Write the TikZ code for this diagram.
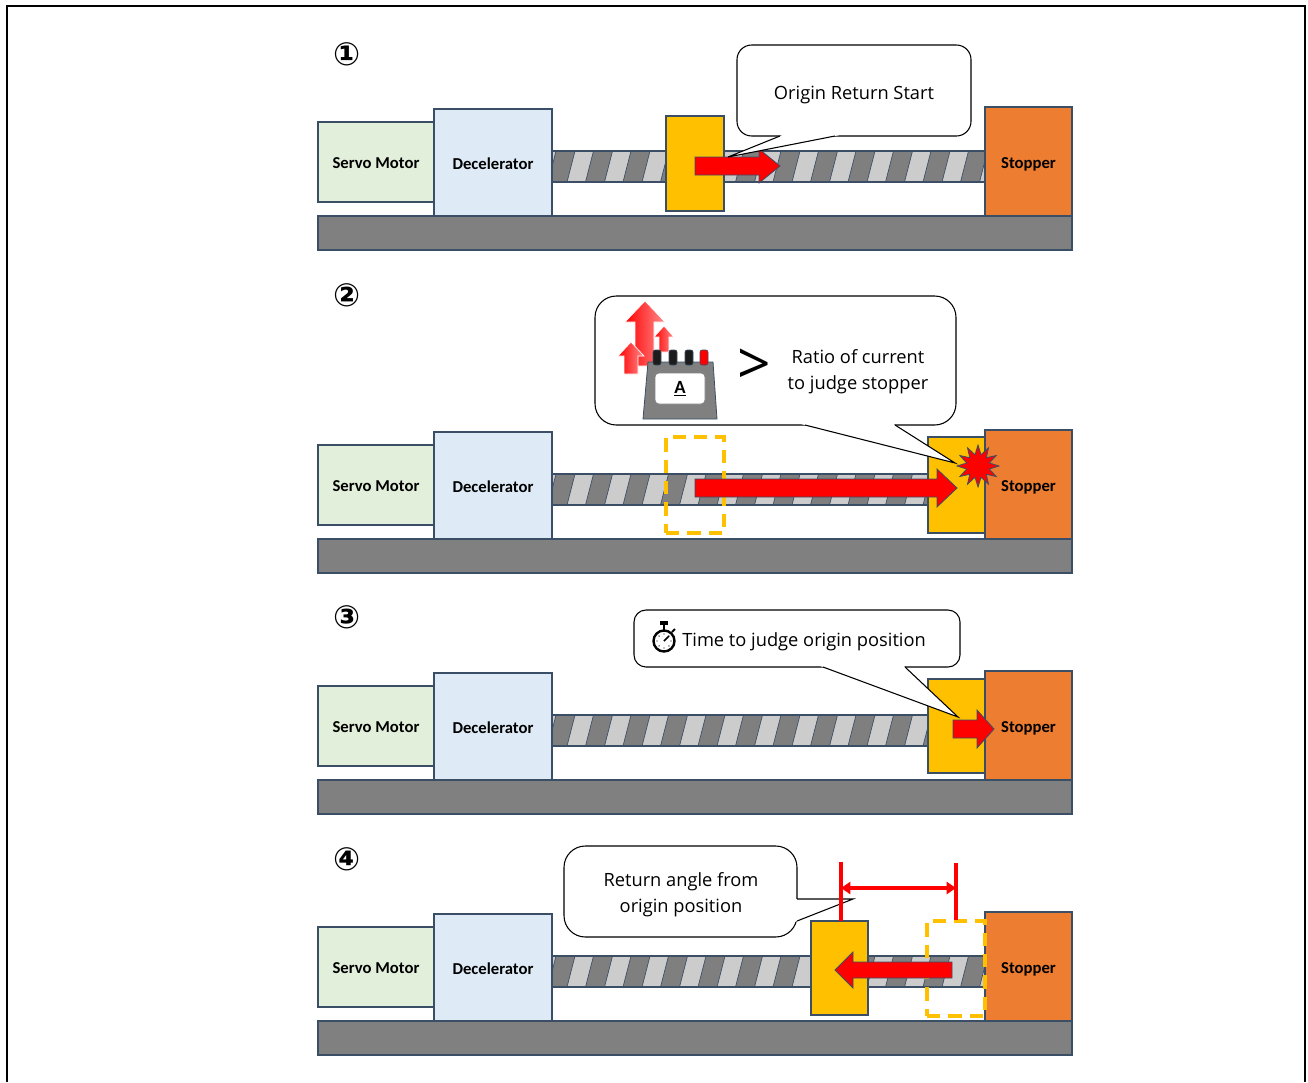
\documentclass[tikz,border=0pt]{standalone}
\usepackage{fontspec}
\setmainfont{Carlito}
\newfontfamily\calloutfont{Open Sans}
\newfontfamily\circfont{DejaVu Sans}
\usetikzlibrary{arrows.meta, calc, shapes.geometric}

\definecolor{edge}{HTML}{3A4F66}
\definecolor{servofill}{HTML}{E2EFDA}
\definecolor{decelfill}{HTML}{DEEBF7}
\definecolor{stopfill}{HTML}{ED7D31}
\definecolor{slidefill}{HTML}{FFC000}
\definecolor{basefill}{HTML}{808080}
\definecolor{screwdark}{HTML}{7F7F7F}
\definecolor{screwlight}{HTML}{CCCCCC}
\definecolor{termblack}{HTML}{1C1C1C}

\tikzset{
  wh/.style 2 args={minimum width=#1*0.75pt, minimum height=#2*0.75pt},
  part/.style={draw=edge, line width=0.9pt, inner sep=0pt, outer sep=0pt,
               text=black, text height=1em, text depth=0pt,
               font=\bfseries\fontsize{12.5}{14}\selectfont},
  base/.style={part, fill=basefill},
  servo/.style={part, fill=servofill},
  decel/.style={part, fill=decelfill},
  stopper/.style={part, fill=stopfill},
  slider/.style={part, fill=slidefill, anchor=north west},
  ghost/.style={draw=slidefill, line width=2.6pt, dash pattern=on 10pt off 6pt,
                inner sep=0pt, outer sep=0pt, anchor=north west},
  pushred/.style={fill=red, draw=edge, line width=0.6pt},
  bubble/.style={draw=black, line width=0.8pt, fill=white, inner sep=0pt,
                 outer sep=0pt, anchor=north west},
  bubbletext/.style={align=center, inner sep=0pt,
                     font=\calloutfont\fontsize{13.7}{19.5}\selectfont},
  rising/.style={left color=red, right color=red!45, draw=white,
                 line width=0.5pt},
  dimline/.style={draw=red, line width=2.4pt},
  stepno/.style={font=\circfont\bfseries\fontsize{24}{24}\selectfont},
}

% lead screw between the gear box and the stopper: x0, x1, top y
\newcommand\leadscrew[3]{%
  \begin{scope}
    \clip (#1,#3) rectangle (#2,#3+31);
    \fill[screwlight] (#1,#3) rectangle (#2,#3+31);
    \foreach \s in {0,...,12}
      \filldraw[fill=screwdark, draw=edge, line width=0.5pt]
        (#1-4+\s*37.5,#3+31) -- ++(8,-31) -- ++(19,0) -- ++(-8,31) -- cycle;
  \end{scope}
  \draw[draw=edge, line width=0.8pt] (#1,#3) rectangle (#2,#3+31);
}

% block arrow: tail x, head x, tip x, centre y, half shaft, half head
\newcommand\pusharrow[6]{%
  \filldraw[pushred] (#1,#4-#5) -- (#2,#4-#5) -- (#2,#4-#6) -- (#3,#4)
    -- (#2,#4+#6) -- (#2,#4+#5) -- (#1,#4+#5) -- cycle;
}

% speech bubble tail: base point, tip, base point
\newcommand\bubbletail[3]{%
  \fill[white] ($(#1)!-3pt!(#2)$) -- (#2) -- ($(#3)!-3pt!(#2)$) -- cycle;
  \draw[line width=0.8pt] (#1) -- (#2) -- (#3);
}

\begin{document}
\begin{tikzpicture}[x=0.75pt, y=-0.75pt]
  \useasboundingbox (0,0) rectangle (1308,1082);
  \draw[line width=1.5pt] (7,1082) -- (7,6) -- (1305,6) -- (1305,1082);

  % the same rig in all four steps
  \foreach \k/\by in {1/216, 2/539, 3/780, 4/1021} {
    \leadscrew{552}{985}{\by-65}
    \node[base, wh={754}{34}, anchor=north west] (base\k) at (318,\by) {};
    \node[servo, wh={116}{80}, anchor=south west] (servo\k) at (318,\by-14)
      {Servo Motor};
    \node[decel, wh={118}{107}, anchor=south west] (decel\k) at (434,\by)
      {Decelerator};
    \node[stopper, wh={87}{109}, anchor=south west] (stop\k) at (985,\by)
      {Stopper};
  }

  \node[stepno] (no1) at (347,54) {①};
  \node[stepno] (no2) at (347,295) {②};
  \node[stepno] (no3) at (347,617) {③};
  \node[stepno] (no4) at (347,859) {④};

  % step 1: start
  \node[slider, wh={58}{95}] (slide1) at (666,116) {};
  \pusharrow{695}{759}{780}{166}{9}{17}
  \node[bubble, wh={234}{91}, rounded corners=11pt] (call1) at (737,45) {};
  \coordinate (tip1) at (728,157);
  \bubbletail{780,136}{tip1}{835,136}
  \node[bubbletext] (starttxt) at (854,94.5) {Origin Return Start};

  % step 2: hits the stopper
  \node[ghost, wh={58}{96}] (was2) at (666,437) {};
  \node[slider, wh={57}{96}] (slide2) at (928,437) {};
  \pusharrow{695}{937}{957}{488}{9}{19}
  \node[bubble, wh={361}{129}, rounded corners=16pt] (call2) at (595,296) {};
  \coordinate (tip2) at (955,463);
  \bubbletail{805,425}{tip2}{895,425}
  \node[star, star points=12, star point ratio=1.8, minimum size=42*0.75pt,
        inner sep=0pt, fill=red, draw=edge, line width=0.6pt] (crash)
    at (978,466) {};

  % current meter
  \shade[rising]
    (635,366) -- (635,322) -- (625,322) -- (645,301) -- (665,322)
    -- (654,322) -- (654,366) -- cycle;
  \shade[rising]
    (624,374) -- (624,356) -- (618,356) -- (631,342) -- (644,356)
    -- (638,356) -- (638,374) -- cycle;
  \shade[rising]
    (659,352) -- (659,337) -- (654,337) -- (664,326) -- (674,337)
    -- (669,337) -- (669,352) -- cycle;
  \filldraw[fill=basefill, draw=edge, line width=0.6pt]
    (643,419) -- (648,362) -- (713,362) -- (717,419) -- cycle;
  \foreach \t/\c in {653/termblack, 669/termblack, 685/termblack, 700/red}
    \filldraw[fill=\c, draw=edge, line width=0.4pt, rounded corners=1.5pt]
      (\t,350) rectangle (\t+8,365);
  \filldraw[fill=white, draw=gray, line width=0.5pt, rounded corners=3pt]
    (655,373) rectangle (705,404);
  \node[font=\bfseries\fontsize{14}{14}\selectfont] (amp) at (680,389)
    {\underline{A}};
  \node[font=\calloutfont\fontsize{44}{44}\selectfont, inner sep=0pt] (gt)
    at (754,367) {>};
  \node[bubbletext] (ratio) at (858,371.5) {Ratio of current\\to judge stopper};

  % step 3: pressed against the stopper
  \node[slider, wh={57}{94}] (slide3) at (928,679) {};
  \pusharrow{953}{977}{994}{729}{9}{19}
  \node[bubble, wh={326}{57}, rounded corners=9pt] (call3) at (634,610) {};
  \coordinate (tip3) at (958,717);
  \bubbletail{823,667}{tip3}{905,667}
  % stopwatch
  \draw[line width=1.8pt] (664,641) circle (10.5);
  \fill (660,621) rectangle (668,625);
  \draw[line width=1.5pt] (664,625) -- (664,630);
  \draw[line width=1.5pt] (672,632) -- (675,629);
  \foreach \a in {0,45,...,315}
    \fill ($(664,641)+(\a:7)$) circle (0.7);
  \draw[line width=1.1pt] (664,641) -- (669,636);
  \node[bubbletext, anchor=west] (timetxt) at (682,641.5)
    {Time to judge origin position};

  % step 4: back off from the stopper
  \node[slider, wh={57}{94}] (slide4) at (811,921) {};
  \node[ghost, wh={58}{95}] (was4) at (927,921) {};
  \pusharrow{952}{853}{835}{970}{8}{18}
  \node[bubble, wh={233}{91}, rounded corners=16pt] (call4) at (564,846) {};
  \coordinate (tip4) at (853,899);
  \bubbletail{797,899}{tip4}{797,921}
  \node[bubbletext] (angletxt) at (681,895)
    {Return angle from\\origin position};

  \coordinate (markA) at (841,888);
  \coordinate (markB) at (956,888);
  \draw[dimline] (841,862) -- (841,921);
  \draw[dimline] (956,863) -- (956,920);
  \draw[dimline, {Triangle[length=7pt, width=9pt]}-{Triangle[length=7pt, width=9pt]}]
    (markA) -- (markB);
\end{tikzpicture}
\end{document}
